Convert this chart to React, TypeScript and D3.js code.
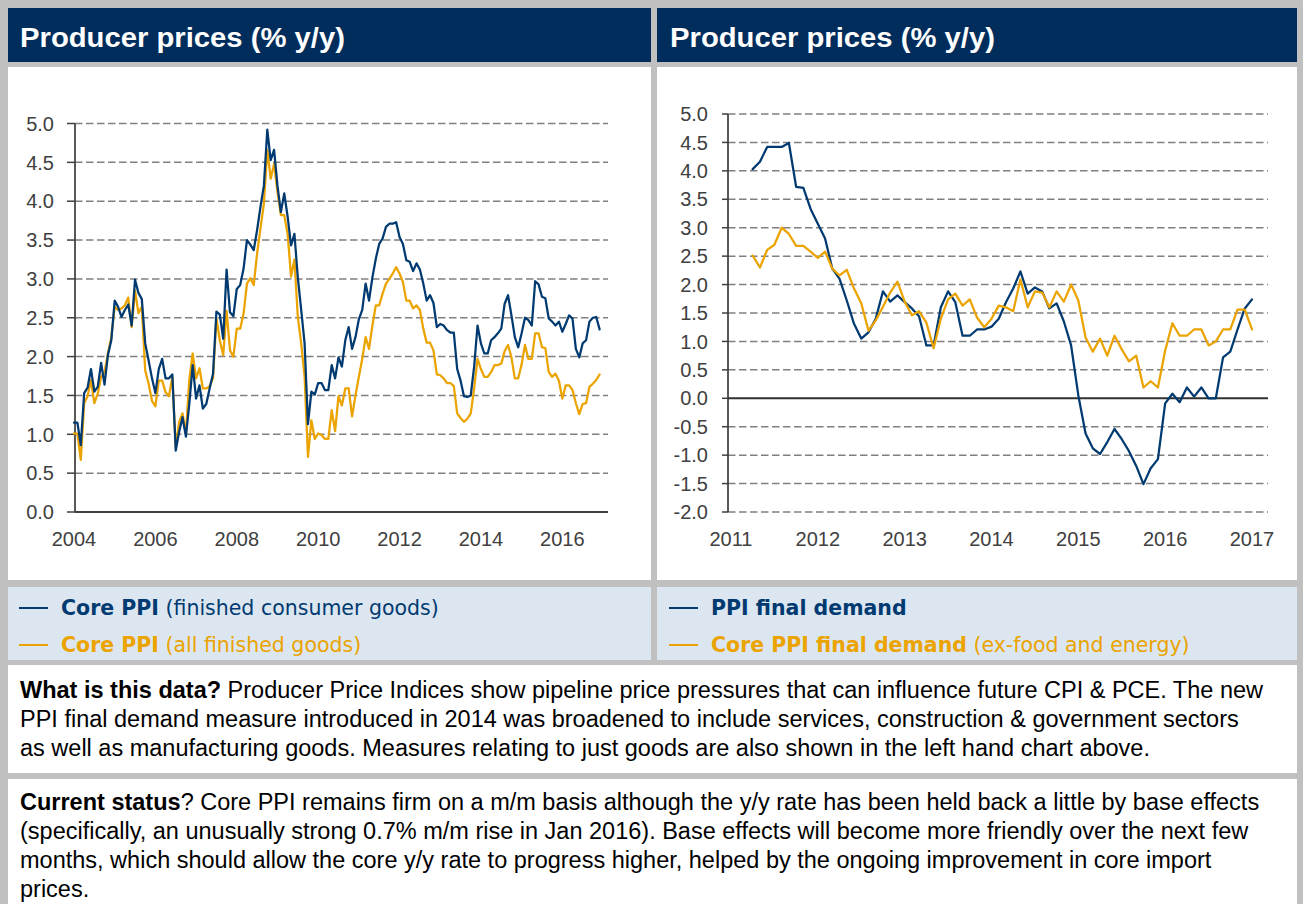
import React from 'react';
import * as d3 from 'd3';

// ---------------- DATA ----------------
// Left chart: monthly, Jan 2004 .. Dec 2016
const leftStartYear = 2004;
const leftYearTicks = [2004, 2006, 2008, 2010, 2012, 2014, 2016];
const leftValueTicks = [0, 0.5, 1, 1.5, 2, 2.5, 3, 3.5, 4, 4.5, 5];
const coreFinishedConsumerGoods = [
  1.15, 1.15, 0.86, 1.53, 1.60, 1.84, 1.55, 1.61, 1.92, 1.64,
  2.02, 2.21, 2.72, 2.64, 2.51, 2.60, 2.67, 2.40, 2.99, 2.82,
  2.74, 2.17, 1.95, 1.72, 1.53, 1.84, 1.97, 1.72, 1.72, 1.77,
  0.79, 1.03, 1.22, 0.97, 1.39, 1.89, 1.46, 1.63, 1.33, 1.39,
  1.59, 1.78, 2.58, 2.54, 2.23, 3.12, 2.57, 2.52, 2.87, 2.92,
  3.13, 3.50, 3.44, 3.37, 3.63, 3.93, 4.20, 4.92, 4.53, 4.66,
  4.20, 3.86, 4.10, 3.80, 3.43, 3.58, 3.02, 2.60, 2.17, 1.13,
  1.55, 1.51, 1.66, 1.66, 1.57, 1.57, 1.89, 1.72, 1.99, 1.87,
  2.21, 2.38, 2.10, 2.25, 2.48,
  2.60, 2.94, 2.72, 3.02, 3.26, 3.45, 3.52, 3.67, 3.71, 3.71,
  3.73, 3.54, 3.45, 3.24, 3.22, 3.10, 3.20, 3.12, 2.94, 2.72,
  2.79, 2.69, 2.38, 2.42, 2.40, 2.34, 2.31, 2.31, 1.84, 1.69,
  1.49, 1.48, 1.50, 1.87, 2.40, 2.17, 2.04, 2.04, 2.21, 2.25,
  2.30, 2.36, 2.68, 2.79, 2.53, 2.25, 2.12, 2.30, 2.50, 2.47,
  2.40, 2.97, 2.93, 2.77, 2.75, 2.49, 2.45, 2.40, 2.45, 2.32,
  2.42, 2.53, 2.49, 2.10, 1.99, 2.17, 2.21, 2.45, 2.50, 2.51, 2.35,
];
const coreAllFinishedGoods = [
  1.01, 1.01, 0.67, 1.40, 1.49, 1.70, 1.40, 1.52, 1.74, 1.80,
  2.04, 2.25, 2.64, 2.60, 2.62, 2.66, 2.76, 2.38, 2.85, 2.56,
  2.64, 1.82, 1.65, 1.43, 1.36, 1.69, 1.69, 1.54, 1.49, 1.74,
  0.83, 1.16, 1.27, 1.01, 1.70, 2.04, 1.72, 1.85, 1.59, 1.59,
  1.62, 1.72, 2.49, 2.21, 2.02, 2.59, 2.08, 2.00, 2.36, 2.36,
  2.55, 2.94, 3.01, 2.92, 3.33, 3.65, 3.97, 4.66, 4.29, 4.48,
  4.12, 3.82, 3.82, 3.58, 3.03, 3.25, 2.51, 2.17, 1.74, 0.71,
  1.18, 0.94, 1.01, 0.99, 0.94, 0.94, 1.31, 1.04, 1.49, 1.37,
  1.59, 1.59, 1.23, 1.50, 1.74,
  1.97, 2.25, 2.10, 2.40, 2.66, 2.66, 2.81, 2.94, 3.00, 3.07,
  3.15, 3.07, 2.96, 2.72, 2.72, 2.62, 2.66, 2.60, 2.36, 2.18,
  2.18, 2.08, 1.77, 1.76, 1.72, 1.66, 1.66, 1.62, 1.27, 1.21,
  1.16, 1.20, 1.27, 1.59, 1.97, 1.84, 1.74, 1.74, 1.80, 1.89,
  1.89, 1.91, 2.07, 2.15, 1.99, 1.72, 1.72, 1.90, 2.15, 1.97,
  1.97, 2.30, 2.30, 2.12, 2.11, 1.80, 1.74, 1.78, 1.69, 1.46,
  1.63, 1.63, 1.57, 1.40, 1.26, 1.39, 1.40, 1.61, 1.65, 1.70, 1.77,
];

// Right chart: monthly, Apr 2011 .. Jan 2017
const rightStartYear = 2011 + 3 / 12;
const rightYearTicks = [2011, 2012, 2013, 2014, 2015, 2016, 2017];
const rightValueTicks = [-2, -1.5, -1, -0.5, 0, 0.5, 1, 1.5, 2, 2.5, 3, 3.5, 4, 4.5, 5];
const ppiFinalDemand = [
  4.03, 4.16, 4.42, 4.42, 4.42, 4.49, 3.72, 3.70, 3.33, 3.07,
  2.81, 2.28, 2.10, 1.72, 1.31, 1.05, 1.16, 1.40, 1.88, 1.70,
  1.81, 1.69, 1.58, 1.44, 0.93, 0.93, 1.60, 1.88, 1.69, 1.10,
  1.10, 1.21, 1.21, 1.26, 1.40, 1.69, 1.93, 2.23, 1.84, 1.95,
  1.88, 1.58, 1.67, 1.35, 0.93, 0.05, -0.62, -0.88, -0.98, -0.77,
  -0.54, -0.72, -0.93, -1.19, -1.51, -1.23, -1.07, -0.09, 0.08, -0.07,
  0.19, 0.03, 0.19, 0.0, 0.0, 0.72, 0.82, 1.21, 1.58, 1.74,
];
const corePpiFinalDemand = [
  2.51, 2.30, 2.61, 2.70, 3.00, 2.89, 2.68, 2.68, 2.58, 2.47,
  2.58, 2.28, 2.16, 2.26, 1.93, 1.67, 1.19, 1.37, 1.61, 1.86,
  2.05, 1.70, 1.46, 1.53, 1.33, 0.88, 1.40, 1.74, 1.84, 1.63,
  1.74, 1.42, 1.25, 1.40, 1.63, 1.60, 1.53, 2.09, 1.60, 1.88,
  1.86, 1.60, 1.88, 1.70, 2.00, 1.72, 1.07, 0.82, 1.05, 0.75,
  1.10, 0.86, 0.65, 0.75, 0.19, 0.30, 0.19, 0.84, 1.32, 1.10,
  1.10, 1.21, 1.21, 0.93, 1.00, 1.21, 1.21, 1.56, 1.56, 1.21,
];

const titleText = 'Producer prices (% y/y)';
const textBox1 = [
  [{ t: 'What is this data?', b: true }, { t: ' Producer Price Indices show pipeline price pressures that can influence future CPI & PCE. The new', b: false }],
  [{ t: 'PPI final demand measure introduced in 2014 was broadened to include services, construction & government sectors', b: false }],
  [{ t: 'as well as manufacturing goods. Measures relating to just goods are also shown in the left hand chart above.', b: false }],
];
const textBox2 = [
  [{ t: 'Current status', b: true }, { t: '? Core PPI remains firm on a m/m basis although the y/y rate has been held back a little by base effects', b: false }],
  [{ t: '(specifically, an unusually strong 0.7% m/m rise in Jan 2016). Base effects will become more friendly over the next few', b: false }],
  [{ t: 'months, which should allow the core y/y rate to progress higher, helped by the ongoing improvement in core import', b: false }],
  [{ t: 'prices.', b: false }],
];

// ---------------- STYLE ----------------
const NAVY = '#003a70';
const GOLD = '#eba300';
const HEADER = '#002d5c';
const BORDER = '#c0c0c0';
const LEGEND_BG = '#dce6f1';
const GRID = '#808080';
const AXIS = '#404040';
const TICK_TEXT = '#404040';
const ARIAL = '"Liberation Sans", Arial, sans-serif';
const VERDANA = '"DejaVu Sans", Verdana, sans-serif';

type ChartProps = {
  xDomain: [number, number];
  xRange: [number, number];
  yDomain: [number, number];
  yRange: [number, number];
  axisX: number;
  gridEnd: number;
  tickLen: number;
  labelX: number;
  yTicks: number[];
  xTicks: number[];
  series: { start: number; values: number[]; color: string }[];
  zeroSolid: boolean;
};

function Chart(p: ChartProps) {
  const x = d3.scaleLinear().domain(p.xDomain).range(p.xRange);
  const y = d3.scaleLinear().domain(p.yDomain).range(p.yRange);
  const line = d3
    .line<{ t: number; v: number }>()
    .x((d) => x(d.t))
    .y((d) => y(d.v));
  const yBottom = y(p.yDomain[0]);
  const yTop = y(p.yDomain[1]);
  return (
    <g>
      {p.yTicks.map((v) => {
        const yy = y(v);
        const isAxis = p.zeroSolid ? v === 0 : v === p.yDomain[0];
        return (
          <g key={'g' + v}>
            {!isAxis && (
              <line x1={p.axisX} x2={p.gridEnd} y1={yy} y2={yy} stroke={GRID} strokeWidth={1.5} strokeDasharray="7.5 3.5" />
            )}
            <line x1={p.axisX - p.tickLen} x2={p.axisX} y1={yy} y2={yy} stroke={AXIS} strokeWidth={1.5} />
            <text x={p.labelX} y={yy} dy="0.36em" textAnchor="end" fontFamily={ARIAL} fontSize={20} fill={TICK_TEXT}>
              {v.toFixed(1)}
            </text>
          </g>
        );
      })}
      <line x1={p.axisX} x2={p.axisX} y1={yTop} y2={yBottom} stroke={AXIS} strokeWidth={1.75} />
      {p.zeroSolid ? (
        <line x1={p.axisX} x2={p.gridEnd} y1={y(0)} y2={y(0)} stroke="#303030" strokeWidth={2} />
      ) : (
        <line x1={p.axisX} x2={p.gridEnd} y1={yBottom} y2={yBottom} stroke={AXIS} strokeWidth={2} />
      )}
      {p.xTicks.map((t) => (
        <text key={'x' + t} x={x(t)} y={546} textAnchor="middle" fontFamily={ARIAL} fontSize={20} fill={TICK_TEXT}>
          {t}
        </text>
      ))}
      {p.series.map((s, i) => (
        <path
          key={'s' + i}
          d={line(s.values.map((v, k) => ({ t: s.start + k / 12, v }))) || ''}
          fill="none"
          stroke={s.color}
          strokeWidth={2.25}
          strokeLinejoin="round"
          strokeLinecap="round"
        />
      ))}
    </g>
  );
}

function Legend({ x, rows }: { x: number; rows: { color: string; bold: string; rest: string; y: number }[] }) {
  return (
    <g>
      {rows.map((r, i) => (
        <g key={i}>
          <line x1={x} x2={x + 29} y1={r.y} y2={r.y} stroke={r.color} strokeWidth={2} />
          <text x={x + 42} y={r.y} dy="0.36em" fontFamily={VERDANA} fontSize={20.5} fill={r.color}>
            <tspan fontWeight="bold">{r.bold}</tspan>
            <tspan>{r.rest}</tspan>
          </text>
        </g>
      ))}
    </g>
  );
}

export default function App() {
  const W = 1303;
  const H = 904;
  return (
    <div style={{ position: 'absolute', left: 0, top: 0 }}>
      <svg width={W} height={H} style={{ display: 'block' }}>
        <rect x={0} y={0} width={W} height={H} fill={BORDER} />
        {/* headers */}
        <rect x={8} y={8} width={643} height={54} fill={HEADER} />
        <rect x={657} y={8} width={640} height={54} fill={HEADER} />
        <text x={20} y={47} fontFamily={ARIAL} fontWeight="bold" fontSize={27} fill="#fff" textLength={325} lengthAdjust="spacingAndGlyphs">
          {titleText}
        </text>
        <text x={670} y={47} fontFamily={ARIAL} fontWeight="bold" fontSize={27} fill="#fff" textLength={325} lengthAdjust="spacingAndGlyphs">
          {titleText}
        </text>
        {/* chart panels */}
        <rect x={8} y={67} width={643} height={513} fill="#fff" />
        <rect x={657} y={67} width={640} height={513} fill="#fff" />
        <Chart
          xDomain={[2004, 2017]}
          xRange={[74, 603]}
          yDomain={[0, 5]}
          yRange={[512, 123.5]}
          axisX={75}
          gridEnd={608}
          tickLen={8}
          labelX={54}
          yTicks={leftValueTicks}
          xTicks={leftYearTicks}
          zeroSolid={false}
          series={[
            { start: leftStartYear, values: coreAllFinishedGoods, color: GOLD },
            { start: leftStartYear, values: coreFinishedConsumerGoods, color: NAVY },
          ]}
        />
        <Chart
          xDomain={[2011, 2017]}
          xRange={[731, 1252]}
          yDomain={[-2, 5]}
          yRange={[512, 114]}
          axisX={728}
          gridEnd={1268}
          tickLen={6}
          labelX={708}
          yTicks={rightValueTicks}
          xTicks={rightYearTicks}
          zeroSolid={true}
          series={[
            { start: rightStartYear, values: ppiFinalDemand, color: NAVY },
            { start: rightStartYear, values: corePpiFinalDemand, color: GOLD },
          ]}
        />
        {/* legends */}
        <rect x={8} y={587} width={643} height={73} fill={LEGEND_BG} />
        <rect x={657} y={587} width={640} height={73} fill={LEGEND_BG} />
        <Legend
          x={19}
          rows={[
            { color: NAVY, bold: 'Core PPI', rest: ' (finished consumer goods)', y: 608 },
            { color: GOLD, bold: 'Core PPI', rest: ' (all finished goods)', y: 645 },
          ]}
        />
        <Legend
          x={669}
          rows={[
            { color: NAVY, bold: 'PPI final demand', rest: '', y: 608 },
            { color: GOLD, bold: 'Core PPI final demand', rest: ' (ex-food and energy)', y: 645 },
          ]}
        />
        {/* text boxes */}
        <rect x={8} y={665} width={1289} height={108} fill="#fff" />
        <rect x={8} y={779} width={1289} height={125} fill="#fff" />
        {textBox1.map((ln, i) => (
          <text key={'a' + i} x={20} y={698 + i * 29} fontFamily={ARIAL} fontSize={23.5} fill="#000">
            {ln.map((s, k) => (
              <tspan key={k} fontWeight={s.b ? 'bold' : 'normal'}>{s.t}</tspan>
            ))}
          </text>
        ))}
        {textBox2.map((ln, i) => (
          <text key={'b' + i} x={20} y={810 + i * 29} fontFamily={ARIAL} fontSize={23.5} fill="#000">
            {ln.map((s, k) => (
              <tspan key={k} fontWeight={s.b ? 'bold' : 'normal'}>{s.t}</tspan>
            ))}
          </text>
        ))}
      </svg>
    </div>
  );
}
